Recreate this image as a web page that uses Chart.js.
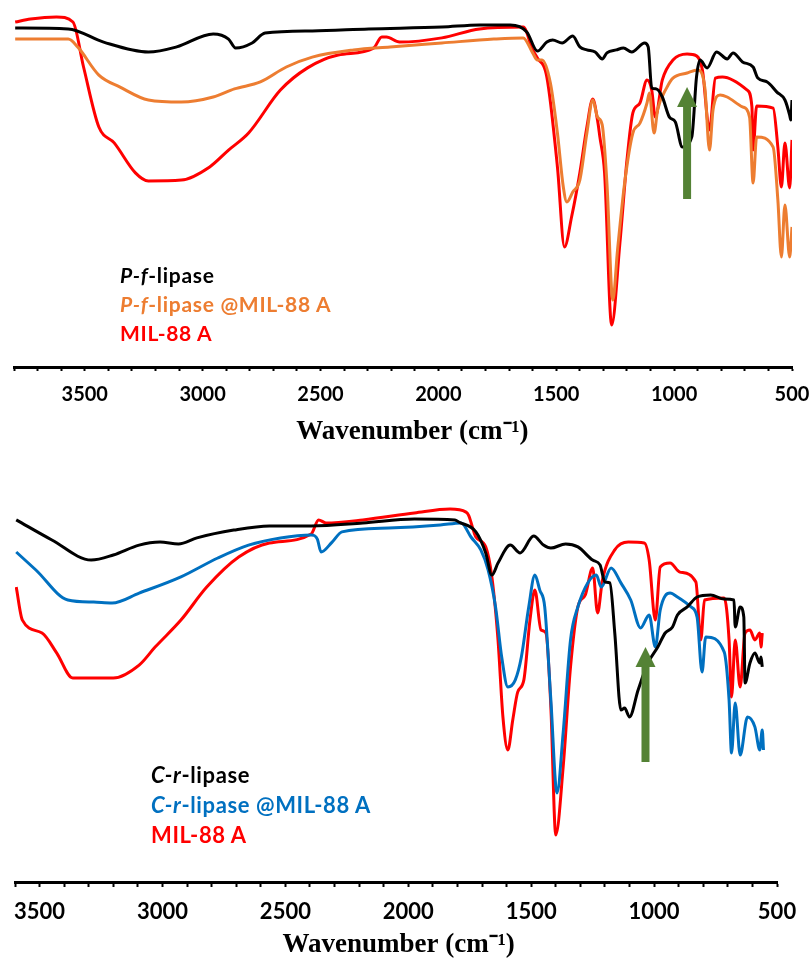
<!DOCTYPE html>
<html lang="en">
<head>
<meta charset="UTF-8">
<title>FTIR spectra - lipase @MIL-88 A</title>
<script src="https://cdn.jsdelivr.net/npm/chart.js"></script>
<style>
  body { margin: 0; background: #fff; }
  .panel { position: absolute; left: 0; width: 811px; }
  #panel-top { top: 0; height: 480px; }
  #panel-bottom { top: 480px; height: 481px; }
  .legend { position: absolute; font-family: Lato, "Noto Sans", sans-serif; font-weight: 700; white-space: nowrap; }
  .legend div { height: 26px; line-height: 26px; }
  #legend-top { left: 120px; top: 262px; font-size: 21px; letter-spacing: 0.7px; }
  #legend-top div { margin-bottom: 3px; }
  #legend-bottom { left: 151px; top: 282px; font-size: 22px; letter-spacing: 0.6px; }
  #legend-bottom div { margin-bottom: 4px; }
</style>
</head>
<body>
  <div id="panel-top" class="panel">
    <canvas id="chartTop" width="811" height="480"></canvas>
    <div id="legend-top" class="legend">
      <div style="color:#000"><i>P-f</i>-lipase</div>
      <div style="color:#ED7D31"><i>P-f</i>-lipase @MIL-88 A</div>
      <div style="color:#FF0000">MIL-88 A</div>
    </div>
  </div>
  <div id="panel-bottom" class="panel">
    <canvas id="chartBottom" width="811" height="481"></canvas>
    <div id="legend-bottom" class="legend">
      <div style="color:#000"><i>C-r</i>-lipase</div>
      <div style="color:#0070C0"><i>C-r</i>-lipase @MIL-88 A</div>
      <div style="color:#FF0000">MIL-88 A</div>
    </div>
  </div>

<script>
// tick labels shown on both wavenumber axes
const tickLabels = [3500, 3000, 2500, 2000, 1500, 1000, 500];

// --- top panel: P-f-lipase (transmittance, a.u.) ---
const pfWn = [3795,3570,3420,3230,3110,2955,2890,2860,2790,2735,2535,2295,1985,1825,1695,1625,1580,1540,1515,1475,1430,1400,1370,1335,1305,1285,1245,1215,1180,1125,1110,1095,1075,1050,1020,995,965,925,905,890,860,820,775,750,710,665,645,605,565,530,510,505,500];
const pfT = [113.0,112.7,108.3,105.0,106.7,111.0,109.3,106.3,108.0,111.3,112.0,112.7,113.3,114.0,114.0,111.7,105.3,108.3,109.0,108.0,110.3,106.7,105.7,105.0,102.7,104.7,105.7,106.3,105.0,108.0,106.7,93.0,92.7,90.0,83.3,81.7,73.3,76.7,96.7,102.3,99.7,105.0,102.7,104.7,101.7,100.0,96.3,95.0,91.7,89.0,84.0,82.3,89.0];

const pfMilWn = [3795,3570,3530,3440,3350,3230,3090,2955,2865,2755,2645,2535,2360,2205,1985,1765,1640,1600,1580,1560,1525,1495,1470,1455,1430,1400,1370,1345,1325,1305,1285,1260,1240,1210,1175,1145,1115,1105,1085,1070,1030,1005,945,900,870,850,835,805,775,710,680,665,650,580,560,545,530,510,500];
const pfMilT = [109.3,109.3,106.7,97.3,93.3,89.0,88.3,90.0,92.7,95.0,100.0,103.3,105.7,106.7,108.0,109.3,109.7,104.7,102.3,102.3,94.7,78.0,60.0,55.0,58.3,62.3,78.0,89.0,83.3,80.7,61.3,22.3,39.0,61.3,78.0,81.3,88.0,91.3,78.0,85.7,93.3,96.3,98.0,99.0,93.3,72.3,85.7,90.7,90.0,86.7,83.3,61.3,76.7,73.3,55.7,36.7,54.0,36.7,46.7];

const milTopWn = [3795,3730,3620,3550,3505,3440,3375,3285,3230,3090,2970,2890,2805,2670,2555,2425,2275,2240,2220,2165,1985,1825,1640,1600,1580,1540,1495,1465,1435,1400,1370,1345,1325,1315,1295,1265,1230,1200,1175,1145,1115,1095,1080,1050,1005,945,905,880,850,825,795,690,670,665,650,580,560,545,530,510,500];
const milTopT = [115.0,116.0,116.7,115.0,100.0,80.0,74.7,64.7,62.0,62.3,66.7,72.3,78.0,92.3,99.7,104.0,106.3,110.0,110.0,108.3,109.7,112.7,113.3,105.7,103.0,96.7,66.7,40.0,50.0,64.7,80.0,89.3,82.3,76.7,64.7,14.0,41.3,69.0,84.7,88.0,95.7,92.3,83.3,95.7,102.3,104.3,103.7,99.0,79.0,96.3,96.7,92.3,86.7,72.3,87.0,86.3,73.3,60.0,74.7,59.7,75.7];

// --- bottom panel: C-r-lipase ---
const crWn = [3595,3450,3290,3200,3095,3010,2935,2860,2710,2565,2395,2185,1975,1810,1795,1725,1685,1660,1635,1585,1545,1490,1450,1420,1360,1310,1250,1220,1200,1180,1160,1135,1120,1100,1065,1025,985,955,925,905,865,825,770,715,675,670,650,635,630,610,590,570,565,560];
const crT = [120.7,114.0,107.3,109.0,112.3,113.3,112.7,114.7,117.3,118.7,118.7,119.7,121.0,120.7,120.0,116.7,109.7,102.3,106.3,112.3,109.7,115.3,112.3,111.3,112.7,111.7,107.3,105.7,100.0,99.7,83.0,57.3,58.0,55.0,64.0,73.0,78.3,83.0,85.0,89.0,91.7,95.0,95.7,94.3,94.0,85.0,91.7,88.3,66.3,73.0,76.3,73.0,75.0,71.7];

const crMilWn = [3595,3515,3385,3280,3205,3095,2925,2775,2650,2520,2395,2370,2355,2310,2270,2080,1870,1785,1745,1705,1675,1645,1620,1595,1565,1540,1510,1485,1465,1445,1420,1395,1370,1340,1310,1270,1235,1215,1175,1135,1095,1055,1020,995,975,935,905,850,825,805,790,715,695,685,670,650,620,590,570,560,555];
const crMilT = [110.0,104.0,94.0,93.3,93.0,96.3,101.7,108.0,112.3,114.7,115.7,114.3,110.0,113.3,116.7,118.0,119.0,119.7,115.0,110.7,104.0,91.7,75.0,65.0,67.3,75.0,91.7,102.3,97.3,91.7,60.7,29.7,49.7,80.7,91.7,99.7,102.3,98.3,104.7,99.7,94.0,84.7,89.0,78.3,90.7,96.3,95.0,91.7,88.3,70.0,81.7,76.7,60.7,43.0,59.7,42.3,55.0,51.7,44.0,50.7,44.0];

const milBotWn = [3595,3570,3490,3430,3365,3280,3200,3095,3030,2925,2820,2690,2565,2395,2365,2335,2185,1975,1830,1765,1755,1725,1685,1660,1635,1615,1595,1575,1555,1530,1505,1485,1460,1440,1420,1400,1370,1340,1310,1280,1250,1230,1210,1160,1105,1040,1020,995,975,935,895,830,810,795,715,695,685,670,650,630,610,590,570,565,560];
const milBotT = [98.3,87.3,83.0,76.3,68.0,68.0,68.0,72.3,78.3,87.3,98.3,108.3,113.0,116.0,120.7,119.7,120.7,123.0,124.3,123.3,122.3,115.0,111.7,101.7,80.7,55.0,44.0,54.0,63.3,67.3,87.3,97.3,84.0,83.0,58.3,15.7,38.3,71.7,91.7,95.7,104.7,89.7,100.7,110.7,113.3,113.0,107.3,87.3,105.0,106.3,103.3,100.0,80.7,94.0,94.7,80.7,61.7,80.7,65.0,83.0,84.0,80.7,83.0,78.3,83.0];

// green arrows marking the band (wavenumber, tail T, tip T)
const arrowTop = [945, 56, 93.3];
const arrowBottom = [1035, 40, 78.3];

function pts(wn, t) {
  return wn.map((w, i) => ({ x: w, y: t[i] }));
}

// draws the green up-arrow through the chart scales
const arrowPlugin = {
  id: 'bandArrow',
  afterDatasetsDraw(chart, args, opts) {
    if (!opts.mark) return;
    const { x, y } = chart.scales;
    const ctx = chart.ctx;
    const px = x.getPixelForValue(opts.mark[0]);
    const yTail = y.getPixelForValue(opts.mark[1]);
    const yTip = y.getPixelForValue(opts.mark[2]);
    const headLen = 20, headHalf = 10, shaftHalf = 4;
    ctx.save();
    ctx.fillStyle = '#548235';
    ctx.fillRect(px - shaftHalf, yTip + headLen - 1, shaftHalf * 2, yTail - yTip - headLen + 1);
    ctx.beginPath();
    ctx.moveTo(px, yTip);
    ctx.lineTo(px + headHalf, yTip + headLen);
    ctx.lineTo(px - headHalf, yTip + headLen);
    ctx.closePath();
    ctx.fill();
    ctx.restore();
  }
};

function line(label, data, color) {
  return {
    label: label,
    data: data,
    borderColor: color,
    borderWidth: 3,
    pointRadius: 0,
    fill: false,
    cubicInterpolationMode: 'monotone'
  };
}

function makeChart(id, datasets, cfg) {
  new Chart(document.getElementById(id), {
    type: 'line',
    data: { datasets: datasets },
    plugins: [arrowPlugin],
    options: {
      responsive: false,
      animation: false,
      layout: { padding: { left: cfg.left, right: cfg.right, top: 0, bottom: 0 } },
      plugins: {
        legend: { display: false },
        tooltip: { enabled: false },
        bandArrow: { mark: cfg.arrow }
      },
      scales: {
        x: {
          type: 'linear',
          reverse: true,
          min: 500,
          max: cfg.xMax,
          border: { display: true, color: '#000', width: 3 },
          grid: {
            display: true,
            drawOnChartArea: false,
            drawTicks: true,
            tickLength: cfg.tickLen,
            tickWidth: 2,
            tickColor: '#000'
          },
          ticks: {
            stepSize: 100,
            autoSkip: false,
            maxTicksLimit: 100,
            maxRotation: 0,
            color: '#000',
            padding: cfg.tickPad,
            font: { family: 'Lato', weight: 'bold', size: cfg.tickSize },
            callback: v => tickLabels.includes(v) ? String(v) : ''
          },
          title: {
            display: true,
            text: cfg.titleText,
            color: '#000',
            padding: { top: 0, bottom: cfg.titlePad },
            font: { family: '"Liberation Serif", "Times New Roman", serif', weight: 'bold', size: 27 }
          },
          afterFit: s => {
            s.height = cfg.axisH;
            s.paddingLeft = 0;
            s.paddingRight = 0;
          }
        },
        y: {
          display: false,
          min: 0,
          max: cfg.yMax
        }
      }
    }
  });
}

makeChart('chartTop', [
  line('P-f-lipase', pts(pfWn, pfT), '#000000'),
  line('P-f-lipase @MIL-88 A', pts(pfMilWn, pfMilT), '#ED7D31'),
  line('MIL-88 A', pts(milTopWn, milTopT), '#FF0000')
], { left: 14, right: 19, xMax: 3800, yMax: 122.33, axisH: 113, tickLen: 4, tickPad: 12, tickSize: 20, titlePad: 32,
     titleText: '\u2002\u2009Wavenumber (cm\u207B\u00B9)', arrow: arrowTop });

makeChart('chartBottom', [
  line('C-r-lipase', pts(crWn, crT), '#000000'),
  line('C-r-lipase @MIL-88 A', pts(crMilWn, crMilT), '#0070C0'),
  line('MIL-88 A', pts(milBotWn, milBotT), '#FF0000')
], { left: 15, right: 34, xMax: 3600, yMax: 134, axisH: 79, tickLen: 5, tickPad: 12, tickSize: 22, titlePad: 0,
     titleText: '\u2009Wavenumber (cm\u207B\u00B9)', arrow: arrowBottom });
</script>
</body>
</html>
